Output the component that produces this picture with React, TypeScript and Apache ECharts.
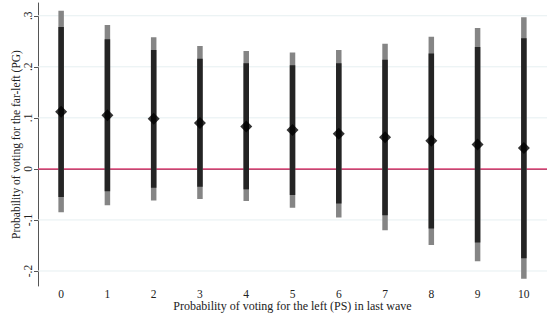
import React, { useEffect, useRef } from "react";
import * as echarts from "echarts";

const categories = ["0", "1", "2", "3", "4", "5", "6", "7", "8", "9", "10"];
const estimates = [0.112, 0.105, 0.098, 0.09, 0.083, 0.076, 0.069, 0.062, 0.055, 0.048, 0.041];
const innerLow = [-0.055, -0.044, -0.037, -0.035, -0.04, -0.051, -0.068, -0.091, -0.117, -0.144, -0.175];
const innerHigh = [0.278, 0.254, 0.233, 0.216, 0.207, 0.203, 0.207, 0.214, 0.226, 0.239, 0.256];
const outerLow = [-0.085, -0.071, -0.062, -0.059, -0.063, -0.076, -0.095, -0.12, -0.149, -0.181, -0.215];
const outerHigh = [0.31, 0.282, 0.258, 0.241, 0.231, 0.228, 0.233, 0.245, 0.259, 0.276, 0.297];
const yTickValues = [-0.2, -0.1, 0, 0.1, 0.2, 0.3];
const yTickLabels = ["-.2", "-.1", "0", ".1", ".2", ".3"];
const referenceValue = [0];

const FONT = "Liberation Serif";

export default function App() {
  const ref = useRef<HTMLDivElement>(null);
  useEffect(() => {
    document.body.style.margin = "0";
    const chart = echarts.init(ref.current!, null, { renderer: "svg" });
    const rangeItem = (fill: string, w: number) => (params: any, api: any) => {
      const x = api.value(0);
      const lo = api.coord([x, api.value(1)]);
      const hi = api.coord([x, api.value(2)]);
      return {
        type: "rect",
        shape: { x: hi[0] - w / 2, y: hi[1], width: w, height: lo[1] - hi[1] },
        style: { fill },
      };
    };
    const hLine = (stroke: string, lw: number) => (params: any, api: any) => {
      const cs = params.coordSys;
      const y = api.coord([0, api.value(0)])[1];
      return {
        type: "line",
        shape: { x1: cs.x, y1: y, x2: cs.x + cs.width, y2: y },
        style: { stroke, lineWidth: lw },
      };
    };
    chart.setOption({
      animation: false,
      backgroundColor: "#ffffff",
      grid: { left: 38, right: -4, top: 3, bottom: 38 },
      xAxis: {
        type: "category",
        data: categories,
        boundaryGap: true,
        name: "Probability of voting for the left (PS) in last wave",
        nameLocation: "middle",
        nameMoveOverlap: false,
        nameGap: 14,
        nameTextStyle: { fontFamily: FONT, fontSize: 12, lineHeight: 11, color: "#222" },
        axisLine: { lineStyle: { color: "#555", width: 1 } },
        axisTick: { alignWithLabel: true, length: 4, lineStyle: { color: "#555" } },
        axisLabel: { fontFamily: FONT, fontSize: 11.5, lineHeight: 11, color: "#222", margin: 2 },
        splitLine: { show: false },
      },
      yAxis: {
        type: "value",
        min: -0.2294,
        max: 0.325,
        name: "Probability of voting for the far-left (PG)",
        nameLocation: "middle",
        nameMoveOverlap: false,
        nameRotate: 90,
        nameGap: 17,
        nameTextStyle: { fontFamily: FONT, fontSize: 11.5, lineHeight: 11, color: "#222" },
        axisLine: { show: true, lineStyle: { color: "#555", width: 1 } },
        axisTick: { show: true, length: 4, customValues: yTickValues, lineStyle: { color: "#555" } },
        axisLabel: {
          fontFamily: FONT,
          fontSize: 11.5,
          lineHeight: 11,
          color: "#222",
          rotate: 90,
          margin: 5,
          customValues: yTickValues,
          formatter: (v: number) => {
            const i = yTickValues.findIndex((t) => Math.abs(t - v) < 1e-6);
            return i >= 0 ? yTickLabels[i] : "";
          },
        },
        splitLine: { show: false },
      },
      series: [
        {
          type: "custom",
          z: 1,
          silent: true,
          renderItem: hLine("#e6eff1", 1),
          encode: { y: 0 },
          data: yTickValues.filter((v) => v !== 0).map((v) => [v]),
        },
        {
          type: "custom",
          z: 1,
          silent: true,
          renderItem: hLine("#e0467a", 1.5),
          encode: { y: 0 },
          data: referenceValue.map((v) => [v]),
        },
        {
          type: "custom",
          z: 2,
          renderItem: rangeItem("#858585", 5.5),
          encode: { x: 0, y: [1, 2] },
          data: categories.map((_, i) => [i, outerLow[i], outerHigh[i]]),
        },
        {
          type: "custom",
          z: 3,
          renderItem: rangeItem("#242424", 5.5),
          encode: { x: 0, y: [1, 2] },
          data: categories.map((_, i) => [i, innerLow[i], innerHigh[i]]),
        },
        {
          type: "scatter",
          z: 4,
          symbol: "diamond",
          symbolSize: [12, 12],
          itemStyle: { color: "#000000" },
          data: categories.map((_, i) => [i, estimates[i]]),
        },
      ],
    });
    return () => chart.dispose();
  }, []);
  return <div ref={ref} style={{ width: 547, height: 324 }} />;
}
